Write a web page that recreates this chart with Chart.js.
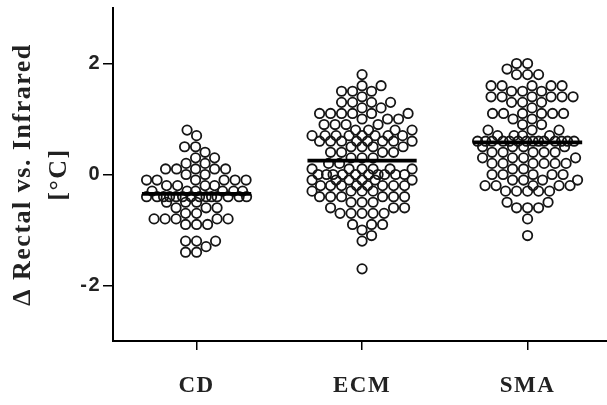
<!DOCTYPE html>
<html>
<head>
<meta charset="utf-8">
<script src="https://cdn.jsdelivr.net/npm/chart.js@4.4.1/dist/chart.umd.min.js"></script>
<style>
  html, body { margin: 0; padding: 0; background: #fff; }
  #wrap { width: 607px; height: 405px; }
</style>
</head>
<body>
<div id="wrap"><canvas id="chart" width="607" height="405"></canvas></div>
<script>
/* ─── Data ───────────────────────────────────────────────────────────────── */
const categories = ['CD', 'ECM', 'SMA'];
const yTicks = [-2, 0, 2];
const groupMeans = [-0.35, 0.25, 0.58];

const cdValues = [
  0.8, 0.7, 0.5, 0.5, 0.4, 0.3, 0.3, 0.2, 0.2,
  0.1, 0.1, 0.1, 0.1, 0.1, 0.0, 0.0,
  -0.1, -0.1, -0.1, -0.1, -0.1, -0.1,
  -0.2, -0.2, -0.2, -0.2,
  -0.3, -0.3, -0.3, -0.3, -0.3, -0.3,
  -0.4, -0.4, -0.4, -0.4, -0.4, -0.4, -0.4, -0.4, -0.4, -0.4, -0.4, -0.4, -0.4, -0.4,
  -0.5, -0.5, -0.5, -0.6, -0.6, -0.6, -0.7, -0.7,
  -0.8, -0.8, -0.8, -0.8, -0.8, -0.9, -0.9, -0.9,
  -1.2, -1.2, -1.2, -1.3, -1.4, -1.4,
];

const ecmValues = [
  1.8, 1.6, 1.6, 1.5, 1.5, 1.5, 1.4, 1.3, 1.3, 1.3, 1.3, 1.2, 1.2,
  1.1, 1.1, 1.1, 1.1, 1.1, 1.1, 1.0, 1.0, 1.0, 0.9, 0.9, 0.9, 0.9,
  0.8, 0.8, 0.8, 0.8, 0.7, 0.7, 0.7, 0.7, 0.7, 0.7, 0.7, 0.7,
  0.6, 0.6, 0.6, 0.6, 0.6, 0.6, 0.6, 0.6, 0.5, 0.5, 0.5, 0.5,
  0.4, 0.4, 0.4, 0.4, 0.3, 0.3, 0.3, 0.2, 0.2,
  0.1, 0.1, 0.1, 0.1, 0.1, 0.1,
  0.0, 0.0, 0.0, 0.0, 0.0, 0.0, 0.0, 0.0, 0.0, 0.0,
  -0.1, -0.1, -0.1, -0.1, -0.1, -0.1,
  -0.2, -0.2, -0.2, -0.2, -0.2, -0.2, -0.2, -0.2,
  -0.3, -0.3, -0.3, -0.3, -0.4, -0.4, -0.4, -0.4, -0.4, -0.4,
  -0.5, -0.5, -0.5, -0.6, -0.6, -0.6,
  -0.7, -0.7, -0.7, -0.7, -0.7, -0.9, -0.9, -0.9,
  -1.0, -1.1, -1.2, -1.7,
];

const smaValues = [
  2.0, 2.0, 1.9, 1.8, 1.8, 1.8, 1.6, 1.6, 1.6, 1.6, 1.6, 1.5, 1.5, 1.5,
  1.4, 1.4, 1.4, 1.4, 1.4, 1.4, 1.3, 1.3, 1.3, 1.2,
  1.1, 1.1, 1.1, 1.1, 1.1, 1.1, 1.0, 1.0, 0.9, 0.9, 0.8, 0.8, 0.8,
  0.7, 0.7, 0.7, 0.7,
  0.6, 0.6, 0.6, 0.6, 0.6, 0.6, 0.6, 0.6, 0.6, 0.6, 0.6, 0.6, 0.6, 0.6,
  0.5, 0.5, 0.5, 0.5, 0.4, 0.4, 0.4, 0.4, 0.4, 0.3, 0.3, 0.3, 0.3,
  0.2, 0.2, 0.2, 0.2, 0.2, 0.2, 0.1, 0.1,
  0.0, 0.0, 0.0, 0.0, 0.0, -0.1, -0.1, -0.1, -0.1,
  -0.2, -0.2, -0.2, -0.2, -0.2, -0.3, -0.3, -0.3, -0.3, -0.3,
  -0.5, -0.5, -0.6, -0.6, -0.6, -0.8, -1.1,
];

const groups = [cdValues, ecmValues, smaValues];

/* ─── Look ───────────────────────────────────────────────────────────────── */
const INK = '#151515';
const SERIF = "'Liberation Serif', 'Times New Roman', serif";
const SANS = "'Liberation Sans', Arial, sans-serif";
const MEAN_HALF = 0.33;   // half length of mean bar, in category units
const DOT_GAP = 11;       // px between dot centres before they overlap
const SWARM_HALF = 50;    // px, widest a column may spread

/* Column scatter: lowest values first, each dot as near the centre as it can
   go without touching; if the column is full, take the roomiest spot. */
function swarm(values, center, pxX, pxY) {
  const placed = [];
  const cands = [0];
  for (let s = 0.5; s <= SWARM_HALF; s += 0.5) { cands.push(s, -s); }
  values.slice().sort((a, b) => a - b).forEach((v, k) => {
    const py = v * pxY;
    const flip = k % 2 ? -1 : 1;
    let best = 0, bestGap = -1;
    for (const c of cands) {
      const px = c * flip;
      let gap = Infinity;
      for (const p of placed) {
        const dy = p.py - py;
        if (Math.abs(dy) >= DOT_GAP) { continue; }
        const d = Math.hypot(p.px - px, dy);
        if (d < gap) { gap = d; }
      }
      if (gap >= DOT_GAP) { best = px; break; }
      if (gap > bestGap) { bestGap = gap; best = px; }
    }
    placed.push({ px: best, py, v });
  });
  return placed.map(p => ({ x: center + p.px / pxX, y: p.v }));
}

// the figure's lettering is set wide
const wideText = {
  id: 'wideText',
  beforeLayout: c => { c.ctx.letterSpacing = '1.5px'; },
  beforeDraw: c => { c.ctx.letterSpacing = '1.5px'; },
};

const meanSets = groupMeans.map((m, i) => ({
  type: 'line',
  data: [{ x: i - MEAN_HALF, y: m }, { x: i + MEAN_HALF, y: m }],
  borderColor: '#000', borderWidth: 3.8, pointRadius: 0, showLine: true,
}));

const dotSets = categories.map(label => ({
  label, data: [],
  pointStyle: 'circle', pointRadius: 4.7, borderWidth: 1.8,
  borderColor: INK, backgroundColor: 'rgba(0,0,0,0)',
}));

const axisGrid = { drawOnChartArea: false, drawTicks: true, color: '#000', lineWidth: 1.5 };
const noPad = s => { s.paddingTop = 0; s.paddingBottom = 0; s.paddingLeft = 0; s.paddingRight = 0; };

const chart = new Chart(document.getElementById('chart'), {
  type: 'scatter',
  data: { datasets: [...meanSets, ...dotSets] },
  plugins: [wideText],
  options: {
    responsive: false, animation: false, devicePixelRatio: 1,
    layout: { autoPadding: false, padding: { top: 8, right: 0, left: 0, bottom: 0 } },
    plugins: { legend: { display: false }, tooltip: { enabled: false } },
    scales: {
      x: {
        type: 'linear', min: -0.505, max: 2.48,
        afterBuildTicks: s => { s.ticks = categories.map((c, i) => ({ value: i })); },
        afterFit: s => { s.height = 64; noPad(s); },
        ticks: {
          callback: v => categories[v], color: '#222', padding: 22,
          font: { family: SERIF, size: 23, weight: 'bold' },
        },
        grid: { ...axisGrid, tickLength: 9 },
        border: { color: '#000', width: 2 },
      },
      y: {
        min: -3, max: 3,
        afterBuildTicks: s => { s.ticks = yTicks.map(v => ({ value: v })); },
        afterFit: s => { s.width = 113; noPad(s); },
        ticks: {
          color: '#222', padding: 2,
          font: { family: SANS, size: 20, weight: 'bold' },
        },
        grid: { ...axisGrid, tickLength: 10 },
        border: { color: '#000', width: 2 },
        title: {
          display: true, text: ['\u0394 Rectal vs. Infrared', '[\u00b0C]'], color: '#222',
          padding: { top: 5, bottom: 0 },
          font: { family: SERIF, size: 26, weight: 'bold', lineHeight: 1.4 },
        },
      },
    },
  },
});

const xs = chart.scales.x, ys = chart.scales.y;
const pxX = Math.abs(xs.getPixelForValue(1) - xs.getPixelForValue(0));
const pxY = Math.abs(ys.getPixelForValue(1) - ys.getPixelForValue(0));
groups.forEach((vals, i) => { dotSets[i].data = swarm(vals, i, pxX, pxY); });
chart.update('none');
</script>
</body>
</html>
